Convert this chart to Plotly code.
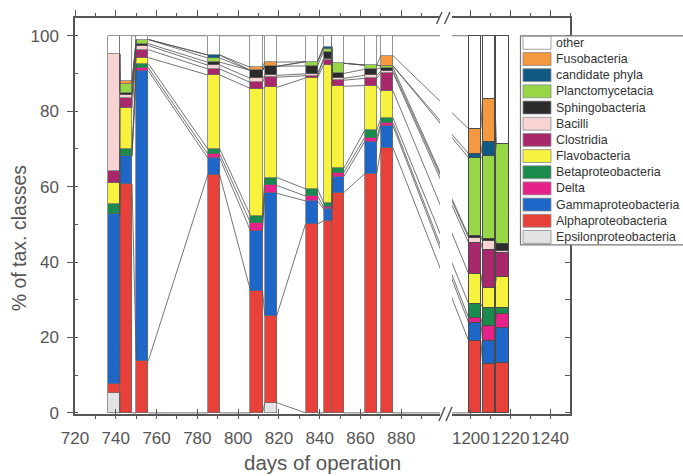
import plotly.graph_objects as go

# Sampling days (first period and second period after the axis break)
days = [739, 745, 753, 788, 809, 816, 836, 844, 849, 865, 873, 1202, 1209, 1216]
bar_width = [5.9, 5.9, 5.9, 5.9, 5.9, 5.9, 5.9, 4.2, 5.6, 5.9, 5.9, 6.2, 6.2, 6.2]

# Relative abundance (% of taxonomic classes), bottom of the stack first
classes = ["Epsilonproteobacteria", "Alphaproteobacteria", "Gammaproteobacteria", "Delta",
           "Betaproteobacteria", "Flavobacteria", "Clostridia", "Bacilli", "Sphingobacteria",
           "Planctomycetacia", "candidate phyla", "Fusobacteria", "other"]

epsilon = [5.3, 0, 0, 0, 0, 2.7, 0, 0, 0, 0, 0, 0, 0, 0]
alpha = [2.4, 60.7, 13.8, 63.1, 32.4, 23.1, 50.1, 50.9, 58.4, 63.4, 70.3, 19.1, 13.0, 13.3]
gamma = [45.0, 7.4, 76.9, 4.5, 15.9, 32.4, 6.1, 3.2, 4.2, 8.5, 5.8, 4.8, 6.1, 9.3]
delta = [0, 0, 0.8, 1.1, 2.1, 2.1, 1.3, 0.5, 1.1, 1.1, 0.8, 1.3, 4.0, 3.7]
beta = [2.7, 1.9, 1.1, 1.3, 1.9, 2.1, 1.9, 1.1, 1.1, 1.9, 1.3, 3.7, 4.8, 1.6]
flavo = [5.6, 10.9, 1.6, 19.6, 33.7, 23.9, 29.4, 36.6, 21.8, 11.9, 7.2, 8.0, 5.3, 8.0]
clostridia = [3.2, 2.7, 2.1, 1.6, 1.6, 2.7, 0.6, 1.3, 1.6, 1.9, 4.8, 8.2, 10.1, 6.4]
bacilli = [31.0, 0.8, 1.1, 1.0, 1.1, 0.5, 0.5, 0.3, 0.5, 0.8, 0.5, 1.3, 2.4, 0.5]
sphingo = [0, 0.5, 0.5, 0.8, 2.1, 2.4, 2.1, 1.9, 1.3, 1.6, 0.8, 0.5, 0.5, 2.1]
plancto = [0, 2.4, 1.1, 1.1, 0, 0, 1.1, 0.8, 2.7, 1.1, 0.5, 20.7, 22.0, 26.5]
candidate = [0, 0, 0, 0.8, 0, 0, 0, 0.5, 0, 0, 0, 1.1, 3.7, 0]
fuso = [0, 0.8, 0, 0, 0.8, 1.1, 0, 0, 0, 0, 2.7, 6.6, 11.4, 0]
other = [4.8, 11.9, 1.0, 5.1, 8.4, 7.0, 6.9, 2.9, 7.3, 7.8, 5.3, 24.7, 16.7, 28.6]

series = [epsilon, alpha, gamma, delta, beta, flavo, clostridia, bacilli, sphingo,
          plancto, candidate, fuso, other]

colors = ["#e3e3e3", "#e8413a", "#1f66c9", "#e6218a", "#1b8a4d", "#f7f23e", "#a8286b",
          "#f8d3d3", "#2b2b2b", "#97d646", "#0e5a84", "#f4993f", "#ffffff"]

# axis layout: two x segments with a break between them
dom1 = [0.0, 0.7374]
dom2 = [0.7616, 1.0]
r1 = [720, 899]
r2 = [1190.5, 1250]
yr = [-0.3, 104.7]
seg1 = [i for i, d in enumerate(days) if d < 1000]
seg2 = [i for i, d in enumerate(days) if d >= 1000]

axis_grey = "#555555"
font_family = "Liberation Sans, Arial, sans-serif"

fig = go.Figure()

for name, vals, col in zip(classes, series, colors):
    for idx, xa, ya in ((seg1, "x", "y"), (seg2, "x2", "y2")):
        second = xa == "x2"
        fig.add_trace(go.Bar(
            x=[days[i] for i in idx], y=[vals[i] for i in idx],
            width=[bar_width[i] for i in idx], name=name,
            marker=dict(color=col, line=dict(color="#4a4a4a" if second else "#6a6a6a",
                                             width=1.4 if second else 0.7)),
            xaxis=xa, yaxis=ya, showlegend=False, hoverinfo="x+y+name"))

# cumulative class boundaries for the connecting lines between neighbouring columns
cum = []
for i in range(len(days)):
    s, levels = 0.0, []
    for vals in series:
        s += vals[i]
        levels.append(s)
    cum.append(levels)


def to_frac(x, r, d):
    return d[0] + (x - r[0]) / (r[1] - r[0]) * (d[1] - d[0])


def from_frac(f, r, d):
    return r[0] + (f - d[0]) / (d[1] - d[0]) * (r[1] - r[0])


def add_connectors(pairs, xa, ya, conv_left, conv_right):
    xs, ys = [], []
    for a, b in pairs:
        xa0 = conv_left(days[a] + bar_width[a] / 2)
        xb0 = conv_right(days[b] - bar_width[b] / 2)
        for k in range(len(series)):
            xs += [xa0, xb0, None]
            ys += [cum[a][k], cum[b][k], None]
    fig.add_trace(go.Scatter(x=xs, y=ys, mode="lines", xaxis=xa, yaxis=ya,
                             line=dict(color="#505050", width=0.8),
                             showlegend=False, hoverinfo="skip"))


ident = lambda v: v
pairs1 = [(seg1[j], seg1[j + 1]) for j in range(len(seg1) - 1)]
pairs2 = [(seg2[j], seg2[j + 1]) for j in range(len(seg2) - 1)]
cross = [(seg1[-1], seg2[0])]
add_connectors(pairs1, "x", "y", ident, ident)
add_connectors(pairs2, "x2", "y2", ident, ident)
# lines crossing the break are straight on screen, clipped by each segment
add_connectors(cross, "x", "y", ident,
               lambda v: from_frac(to_frac(v, r2, dom2), r1, dom1))
add_connectors(cross, "x2", "y2",
               lambda v: from_frac(to_frac(v, r1, dom1), r2, dom2), ident)

# invisible traces to carry the top frame axes
fig.add_trace(go.Scatter(x=[r1[0]], y=[0], xaxis="x3", yaxis="y", mode="markers",
                         marker=dict(opacity=0), showlegend=False, hoverinfo="skip"))
fig.add_trace(go.Scatter(x=[r2[0]], y=[0], xaxis="x4", yaxis="y2", mode="markers",
                         marker=dict(opacity=0), showlegend=False, hoverinfo="skip"))

tickfont = dict(family=font_family, size=17, color=axis_grey)
xcommon = dict(showgrid=False, zeroline=False, showline=True, linecolor=axis_grey,
               linewidth=1.5, ticks="inside", ticklen=5, tickwidth=1.3, tickcolor=axis_grey,
               tickfont=tickfont, dtick=20, ticklabelstandoff=8, tickangle=0,
               minor=dict(dtick=10, ticks="outside", ticklen=3, tickcolor=axis_grey,
                          tickwidth=1.1, showgrid=False))
topcommon = dict(showgrid=False, zeroline=False, showline=True, linecolor=axis_grey,
                 linewidth=1.5, ticks="outside", ticklen=6, tickwidth=1.3,
                 tickcolor=axis_grey, showticklabels=False, dtick=20, side="top",
                 minor=dict(dtick=10, ticks="outside", ticklen=3, tickcolor=axis_grey,
                            tickwidth=1.1, showgrid=False))

fig.update_layout(
    width=683, height=476,
    margin=dict(l=75, r=113, t=15, b=62),
    paper_bgcolor="white", plot_bgcolor="white",
    barmode="stack", bargap=0,
    xaxis=dict(domain=dom1, range=r1, tick0=720, anchor="y", **xcommon),
    xaxis2=dict(domain=dom2, range=r2, tick0=1200, anchor="y2", **xcommon),
    xaxis3=dict(domain=dom1, range=r1, tick0=720, anchor="y", overlaying="x", **topcommon),
    xaxis4=dict(domain=dom2, range=r2, tick0=1200, anchor="y2", overlaying="x2", **topcommon),
    yaxis=dict(range=yr, anchor="x", side="left", showgrid=False, zeroline=False,
               showline=True, linecolor=axis_grey, linewidth=1.5, ticks="outside",
               ticklen=6, tickwidth=1.3, tickcolor=axis_grey, dtick=20, tick0=0,
               tickfont=tickfont, ticklabelstandoff=5,
               minor=dict(dtick=10, ticks="inside", ticklen=3, tickcolor=axis_grey,
                          tickwidth=1.1, showgrid=False)),
    yaxis2=dict(range=yr, anchor="x2", side="right", showgrid=False, zeroline=False,
                showline=True, linecolor=axis_grey, linewidth=1.5, ticks="inside",
                ticklen=5, tickwidth=1.3, tickcolor=axis_grey, dtick=10, tick0=0,
                showticklabels=False),
    showlegend=False,
)

# pixel helpers for decorations placed in paper space
PL, PR, PT, PB = 75, 570, 15, 414


def px(xp):
    return (xp - PL) / (PR - PL)


def py(yp):
    return (PB - yp) / (PB - PT)


shapes = []
# axis break marks on the bottom and top frames
for (x0, y0, x1, y1) in [(439, 421, 445, 407), (446, 421, 452, 407),
                         (436.5, 21, 442, 9), (444.5, 21, 450, 9)]:
    shapes.append(dict(type="line", xref="paper", yref="paper", x0=px(x0), y0=py(y0),
                       x1=px(x1), y1=py(y1), line=dict(color=axis_grey, width=1.5)))

# legend frame and swatches
shapes.append(dict(type="rect", xref="paper", yref="paper", x0=px(520.5), y0=py(243.5),
                   x1=px(700), y1=py(33), line=dict(color="#777777", width=1.2),
                   fillcolor="white", layer="above"))
annotations = []
legend_order = list(range(len(classes)))[::-1]
for row, k in enumerate(legend_order):
    yc = 40 + 16.3 * row
    shapes.append(dict(type="rect", xref="paper", yref="paper", x0=px(523), x1=px(551),
                       y0=py(yc + 6.5), y1=py(yc - 6.5), fillcolor=colors[k],
                       line=dict(color="#8a8a8a", width=0.8), layer="above"))
    annotations.append(dict(xref="paper", yref="paper", x=px(554), y=py(yc), text=classes[k],
                            showarrow=False, xanchor="left", yanchor="middle",
                            font=dict(family=font_family, size=12.4, color="#333333")))

annotations.append(dict(xref="paper", yref="paper", x=px(322), y=py(463),
                        text="days of operation", showarrow=False, xanchor="center",
                        yanchor="middle", font=dict(family=font_family, size=20.5, color=axis_grey)))
annotations.append(dict(xref="paper", yref="paper", x=px(19), y=py(237),
                        text="% of tax. classes", showarrow=False, textangle=-90,
                        xanchor="center", yanchor="middle",
                        font=dict(family=font_family, size=19.5, color=axis_grey)))

fig.update_layout(shapes=shapes, annotations=annotations)

fig.write_html("out.html")
